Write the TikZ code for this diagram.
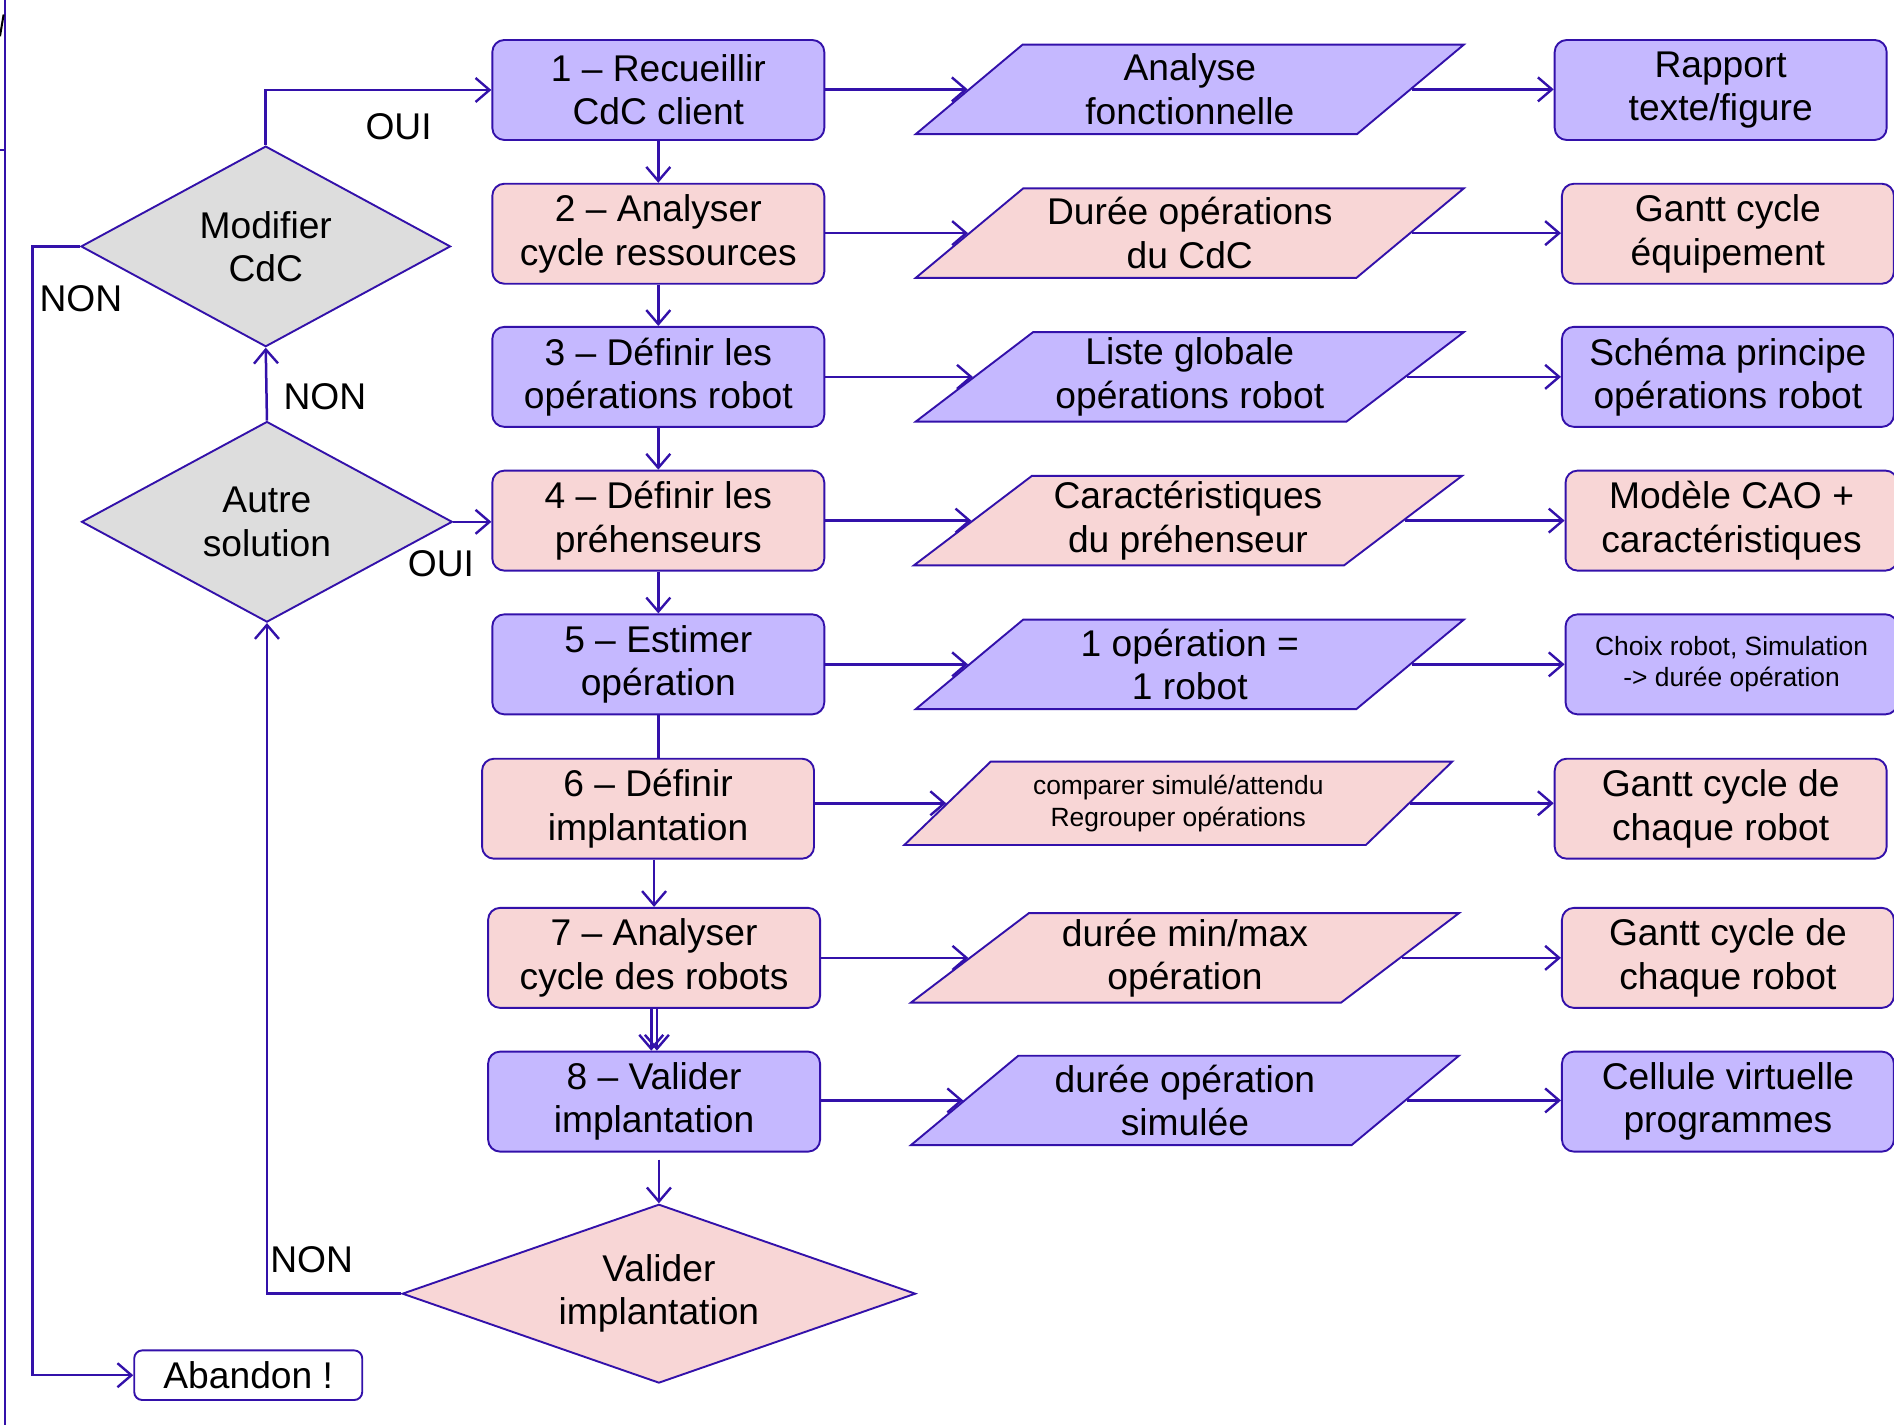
\documentclass[tikz,border=0pt]{standalone}
\usepackage{fontspec}
\setmainfont{Liberation Sans}
\usetikzlibrary{shapes.geometric,arrows.meta}
\definecolor{lc}{RGB}{51,17,170}
\definecolor{purp}{RGB}{197,184,255}
\definecolor{pinkc}{RGB}{248,214,214}
\definecolor{grayc}{RGB}{221,221,221}
\begin{document}
\begin{tikzpicture}[x=0.604pt,y=-0.604pt,
  every node/.style={font=\fontsize{18.6}{21.7}\selectfont,align=center,text=black},
  proc/.style={draw=lc,line width=0.95pt,rounded corners=6pt,minimum width=166pt,minimum height=50pt,inner sep=1pt},
  para/.style={draw=lc,line width=0.95pt,trapezium,trapezium left angle=35,trapezium right angle=145,trapezium stretches body,minimum width=274pt,minimum height=44.7pt,inner sep=1pt},
  dec/.style={draw=lc,line width=0.95pt,diamond,inner sep=0pt},
  small/.style={font=\fontsize{13.2}{15.8}\selectfont},
  conn/.style={draw=lc,line width=1.25pt,-{Straight Barb[length=7pt,width=12pt,line width=1.2pt]}},
  plain/.style={draw=lc,line width=1.25pt},
  lab/.style={inner sep=0pt}]
\useasboundingbox (0,0) rectangle (1568,1180);
% left frame
\draw[plain,line width=0.9pt] (4,0) -- (4,1180);
\draw[plain,line width=0.9pt] (0,124) -- (4,124);
\draw[black,line width=1pt] (0,30) -- (3,12);
% process boxes
\node[proc,fill=purp]  (b1) at (545,74.5) {1 – Recueillir\\CdC client};
\node[proc,fill=pinkc] (b2) at (545,193.5) {2 – Analyser\\cycle ressources};
\node[proc,fill=purp]  (b3) at (545,312) {3 – Définir les\\opérations robot};
\node[proc,fill=pinkc] (b4) at (545,431) {4 – Définir les\\préhenseurs};
\node[proc,fill=purp]  (b5) at (545,550) {5 – Estimer\\opération};
\node[proc,fill=pinkc] (b6) at (536.5,669.5) {6 – Définir\\implantation};
\node[proc,fill=pinkc] (b7) at (541.5,793) {7 – Analyser\\cycle des robots};
\node[proc,fill=purp]  (b8) at (541.5,912) {8 – Valider\\implantation};
% parallelograms
\node[para,fill=purp]  (p1) at (985,74) {Analyse\\fonctionnelle};
\node[para,fill=pinkc] (p2) at (985,193) {Durée opérations\\du CdC};
\node[para,fill=purp]  (p3) at (985,312) {Liste globale\\opérations robot};
\node[para,fill=pinkc] (p4) at (983.5,431) {Caractéristiques\\du préhenseur};
\node[para,fill=purp]  (p5) at (985,550) {1 opération =\\1 robot};
\node[para,fill=pinkc,small,minimum height=41.7pt] (p6) at (975.5,665) {comparer simulé/attendu\\Regrouper opérations};
\node[para,fill=pinkc] (p7) at (981,793) {durée min/max\\opération};
\node[para,fill=purp]  (p8) at (981,911) {durée opération\\simulée};
% result boxes
\node[proc,fill=purp]  (r1) at (1424.5,74.5) {Rapport\\texte/figure};
\node[proc,fill=pinkc] (r2) at (1430.5,193.5) {Gantt cycle\\équipement};
\node[proc,fill=purp]  (r3) at (1430.5,312) {Schéma principe\\opérations robot};
\node[proc,fill=pinkc] (r4) at (1433.5,431) {Modèle CAO +\\caractéristiques};
\node[proc,fill=purp,small]  (r5) at (1433.5,550) {Choix robot, Simulation\\-> durée opération};
\node[proc,fill=pinkc] (r6) at (1424.5,669.5) {Gantt cycle de\\chaque robot};
\node[proc,fill=pinkc] (r7) at (1430.5,793) {Gantt cycle de\\chaque robot};
\node[proc,fill=purp]  (r8) at (1430.5,912) {Cellule virtuelle\\programmes};
% decisions
\node[dec,fill=grayc,aspect=1.84,minimum width=184.8pt,minimum height=100.3pt] (d1) at (220,204) {Modifier\\CdC};
\node[dec,fill=grayc,aspect=1.84,minimum width=185.4pt,minimum height=100.3pt] (d2) at (221,432) {Autre\\solution};
\node[dec,fill=pinkc,aspect=2.87,minimum width=256.7pt,minimum height=89.4pt] (d3) at (545.5,1071) {Valider\\implantation};
\node[proc,fill=white,minimum width=114pt,minimum height=24.8pt,rounded corners=4pt] (ab) at (205.5,1138.5) {Abandon !};
% vertical flow
\draw[conn] (b1) -- (b2);
\draw[conn] (b2) -- (b3);
\draw[conn] (b3) -- (b4);
\draw[conn] (b4) -- (b5);
\draw[plain] (b5.south) -- (b5.south |- b6.north);
\draw[conn] (b7.north |- b6.south) -- (b7.north);
\draw[conn] ([xshift=-1.4pt]b7.south) -- ([xshift=-1.4pt]b8.north);
\draw[conn] ([xshift=1.4pt]b7.south) -- ([xshift=1.4pt]b8.north);
\draw[conn,shorten <=3.5pt] (d3.north |- b8.south) -- (d3.north);
% horizontal flows
\foreach \i in {1,...,8}{
  \draw[conn] (p\i.left side -| b\i.east) -- (p\i.left side);
  \draw[conn] (p\i.right side) -- (p\i.right side -| r\i.west);
}
% decisions links
\draw[conn] (d1.north) |- (b1.west);
\coordinate (cl) at (27,204);
\draw[conn] (d1.west) -- (cl) |- (ab.west);
\draw[conn] (d2.north) -- (d1.south);
\draw[conn] (d2.east) -- (b4.west |- d2.east);
\draw[conn] (d3.west) -| (d2.south);
% labels
\node[lab] (l1) at (330,105) {OUI};
\node[lab] (l2) at (67,247) {NON};
\node[lab] (l3) at (269,328) {NON};
\node[lab] (l4) at (365,467) {OUI};
\node[lab] (l5) at (258,1043) {NON};
\end{tikzpicture}
\end{document}
